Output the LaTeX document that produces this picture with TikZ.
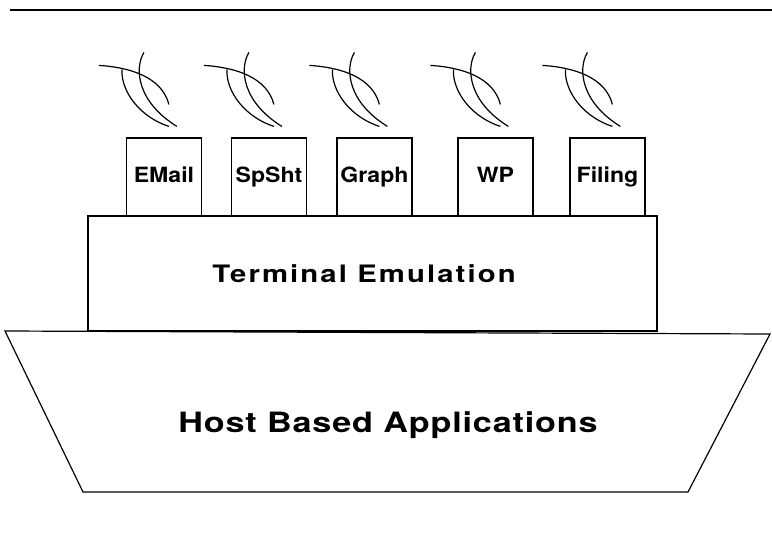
\documentclass[tikz,border=0pt]{standalone}
\usepackage{fontspec}
\setmainfont{TeX Gyre Heros}
\newfontfamily\plotfont[FakeStretch=1.22]{TeX Gyre Heros}
\newfontfamily\boxfont[FakeStretch=1.1]{TeX Gyre Heros}
\usetikzlibrary{positioning}

\tikzset{
	funnel/.style={draw, line width=1.2pt, minimum width=75pt, minimum height=78pt, inner sep=0pt,
		text height=15pt, text depth=5pt,
		font=\boxfont\bfseries\fontsize{21}{23}\selectfont},
	deck/.style={draw, line width=1.2pt, minimum width=569pt, minimum height=115pt, inner sep=0pt},
	decktext/.style={anchor=base, inner sep=0pt,
		font=\plotfont\bfseries\fontsize{24}{26}\selectfont\addfontfeature{LetterSpace=8.8}},
	hulltext/.style={anchor=base, inner sep=0pt,
		font=\plotfont\bfseries\fontsize{28}{30}\selectfont\addfontfeature{LetterSpace=3}},
	smoke/.pic={
		\draw (-27,-72) .. controls (5,-70) and (36,-60) .. (43,-33);
		\draw (18,-85) .. controls (8,-68) and (12,-35) .. (51,-11);
		\draw (-4,-68) .. controls (-5,-45) and (15,-20) .. (43,-11);
	}
}

\begin{document}
\begin{tikzpicture}[x=1pt, y=-1pt, line width=1.2pt]
		\useasboundingbox (0,0) rectangle (772,536);
		% rule on top
		\draw (10,10) -- (772,10);
		% hull
		\draw (5,331) -- (770,334) -- (688,492) -- (83,492) -- cycle;
		\node[hulltext] (hull) at (388,432) {Host Based Applications};
		% deck
		\node[deck] (term) at (372.5,273.5) {};
		\node[decktext] (termtext) at (364,282) {Terminal Emulation};
		% funnels with smoke
		\foreach \x/\name/\txt in {164/email/EMail, 269/spsht/SpSht, 374.5/graph/Graph, 495.5/wp/WP, 607.5/filing/Filing}
		{
			\node[funnel] (\name) at (\x,177) {\txt};
			\pic at (\name.north west) {smoke};
		}
\end{tikzpicture}
\end{document}
